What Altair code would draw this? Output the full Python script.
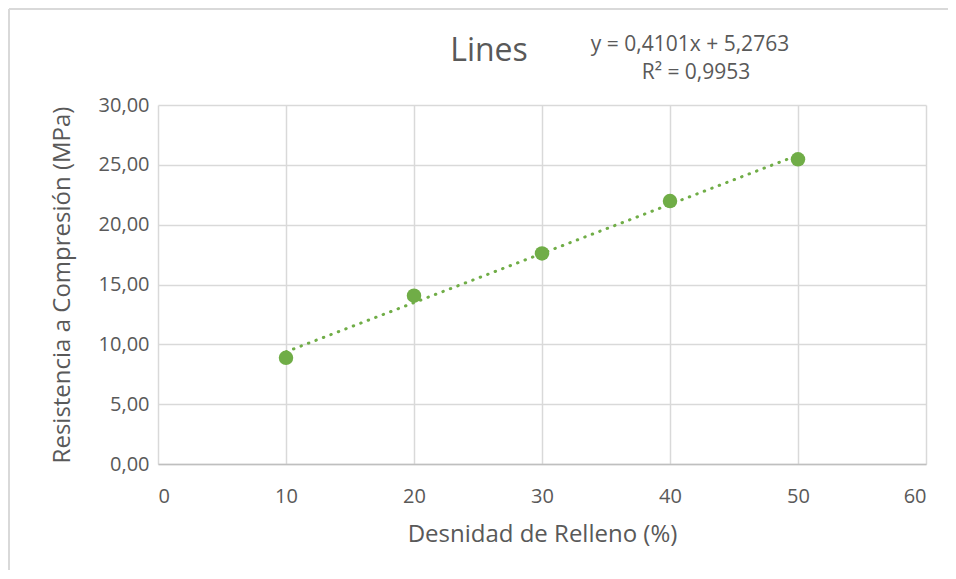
import altair as alt
import pandas as pd

# Data
densidad = [10, 20, 30, 40, 50]
resistencia = [8.87, 14.06, 17.60, 21.97, 25.46]
equation_lines = ["y = 0,4101x + 5,2763", "R² = 0,9953"]
chart_title = "Lines"
x_title = "Desnidad de Relleno (%)"
y_title = "Resistencia a Compresión (MPa)"
x_ticks = [0, 10, 20, 30, 40, 50, 60]
y_ticks = [0, 5, 10, 15, 20, 25, 30]

GREEN = "#70AD47"
GRAY_TXT = "#595959"
GRID = "#D9D9D9"
FONT = "Open Sans"

df = pd.DataFrame({"x": densidad, "y": resistencia})
one = pd.DataFrame({"k": [0]})

x_enc = alt.X(
    "x:Q",
    scale=alt.Scale(domain=[0, 60], nice=False, zero=False),
    axis=alt.Axis(
        values=x_ticks, title=x_title, grid=True, ticks=False,
        labelPadding=22, titlePadding=16, domainColor="#BFBFBF", domainWidth=1.5,
    ),
)
y_enc = alt.Y(
    "y:Q",
    scale=alt.Scale(domain=[0, 30], nice=False, zero=False),
    axis=alt.Axis(
        values=y_ticks, title=y_title, grid=True, ticks=False,
        labelPadding=9, titlePadding=24, domain=False,
        labelExpr="replace(format(datum.value, '.2f'), '.', ',')",
    ),
)

frame_top = alt.Chart(one).mark_rule(color=GRID, strokeWidth=2).encode(
    x=alt.value(-149), x2=alt.value(800), y=alt.value(-96)
)
frame_left = alt.Chart(one).mark_rule(color=GRID, strokeWidth=2).encode(
    x=alt.value(-149), y=alt.value(-96), y2=alt.value(480)
)

points = alt.Chart(df).mark_circle(size=210, color=GREEN, opacity=1).encode(
    x=x_enc, y=y_enc
)

trend = alt.Chart(df).transform_regression("x", "y").mark_line(
    color=GREEN, strokeWidth=3, strokeDash=[0.5, 7.5], strokeCap="round"
).encode(x="x:Q", y="y:Q")

title_txt = alt.Chart(one).mark_text(
    text=chart_title, font=FONT, fontSize=32, color=GRAY_TXT,
    align="center", baseline="alphabetic"
).encode(x=alt.value(331), y=alt.value(-44))

eq1 = alt.Chart(one).mark_text(
    text=equation_lines[0], font=FONT, fontSize=21, color=GRAY_TXT,
    align="center", baseline="alphabetic"
).encode(x=alt.value(532), y=alt.value(-54))

eq2 = alt.Chart(one).mark_text(
    text=equation_lines[1], font=FONT, fontSize=21, color=GRAY_TXT,
    align="center", baseline="alphabetic"
).encode(x=alt.value(538), y=alt.value(-26))

chart = alt.layer(frame_top, frame_left, trend, points, title_txt, eq1, eq2).properties(
    width=768, height=359,
    autosize=alt.AutoSizeParams(type="none"),
    padding={"left": 150, "top": 97, "right": 22, "bottom": 106},
    background="white",
).configure_view(stroke=None).configure_axis(
    gridColor=GRID, gridWidth=1.5,
    labelFont=FONT, labelFontSize=20, labelColor=GRAY_TXT,
    titleFont=FONT, titleFontSize=24, titleColor=GRAY_TXT, titleFontWeight="normal",
)

chart.save("out.html", embed_options={"renderer": "svg", "actions": False})
